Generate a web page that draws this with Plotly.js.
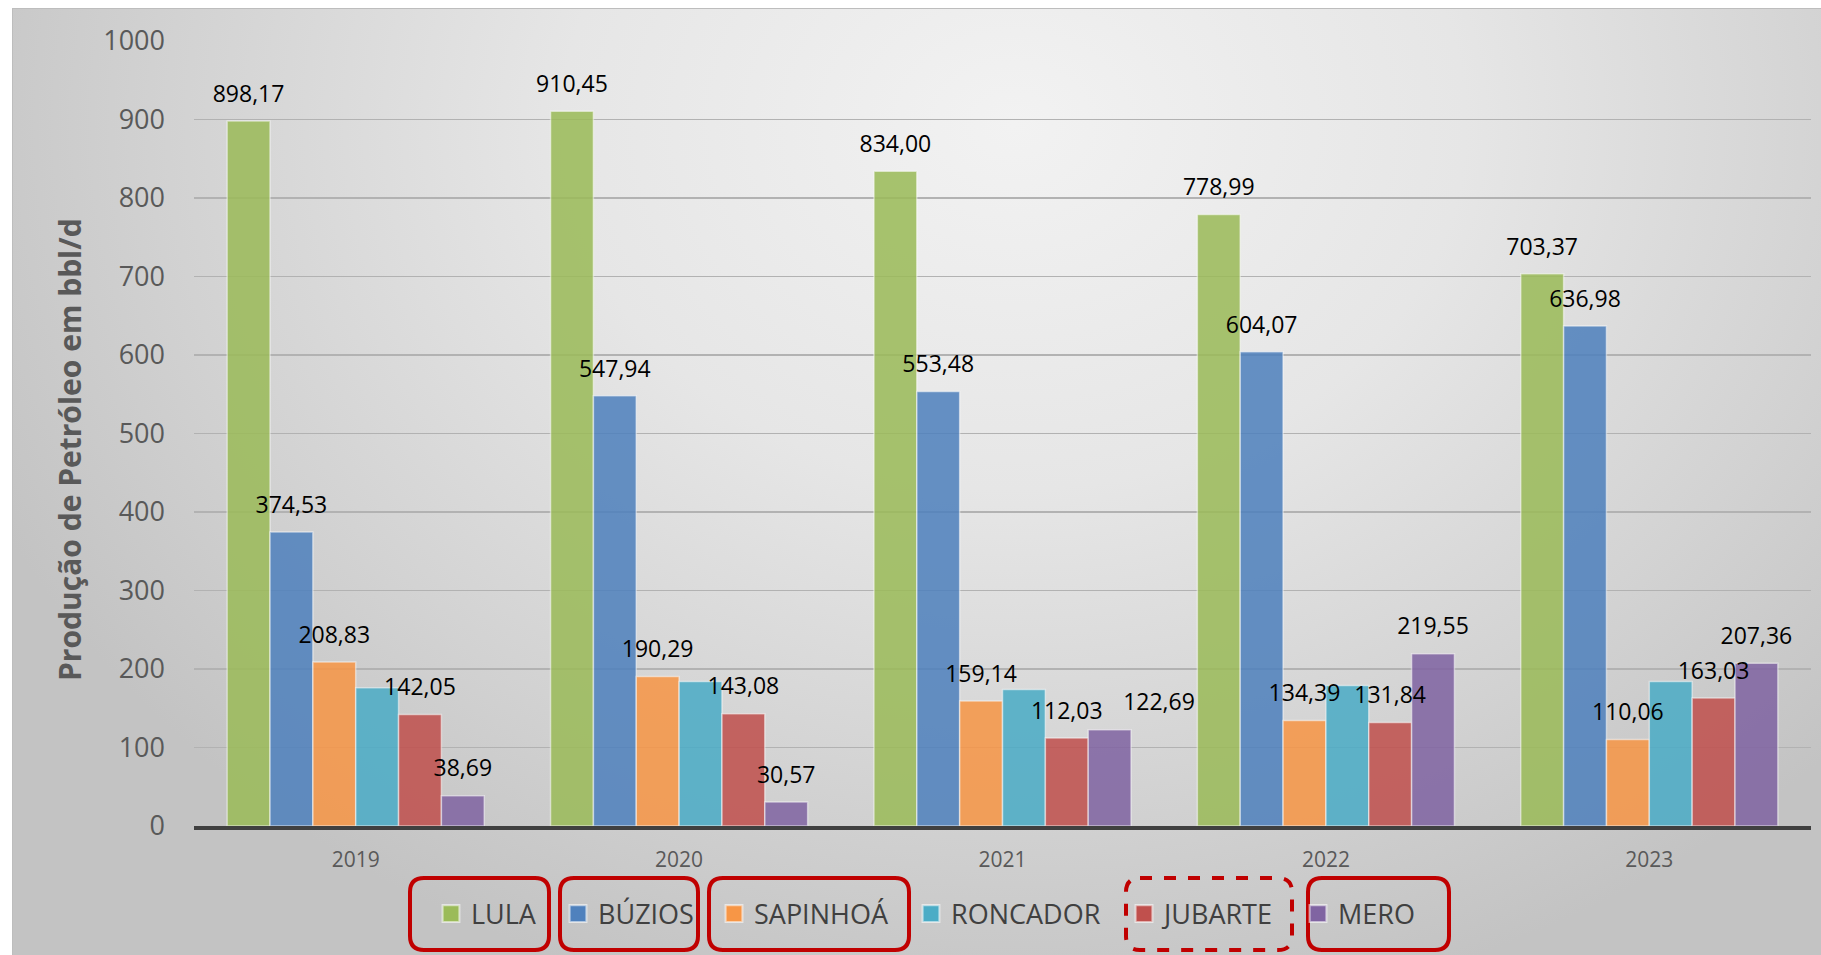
<!DOCTYPE html>
<html>
<head>
<meta charset="utf-8">
<script src="https://cdn.plot.ly/plotly-3.0.1.min.js"></script>
<style>
  html, body { margin: 0; padding: 0; background: #ffffff; width: 1821px; height: 955px; overflow: hidden; }
  #bg {
    position: absolute; left: 12px; top: 8px; width: 1820px; height: 960px;
    border: 1.5px solid #bdbdbd;
    background: radial-gradient(ellipse 62% 95% at 55% 12%, #f2f2f2 0%, #e6e6e6 40%, #d2d2d2 75%, #c3c3c3 100%);
  }
  #chart { position: absolute; left: 0; top: 0; width: 1821px; height: 955px; }
</style>
</head>
<body>
<div id="bg"></div>
<div id="chart"></div>
<script>
// ---- data ----
const years = ['2019', '2020', '2021', '2022', '2023'];
const seriesNames = ['LULA', 'BÚZIOS', 'SAPINHOÁ', 'RONCADOR', 'JUBARTE', 'MERO'];
const lula     = [898.17, 910.45, 834.00, 778.99, 703.37];
const buzios   = [374.53, 547.94, 553.48, 604.07, 636.98];
const sapinhoa = [208.83, 190.29, 159.14, 134.39, 110.06];
const roncador = [176, 184, 174, 179, 184];
const jubarte  = [142.05, 143.08, 112.03, 131.84, 163.03];
const mero     = [38.69, 30.57, 122.69, 219.55, 207.36];
const showLabel = [true, true, true, false, true, true];
const yTicks = [0, 100, 200, 300, 400, 500, 600, 700, 800, 900, 1000];
const yTitle = 'Produção de Petróleo em bbl/d';

// ---- styling ----
const seriesValues = [lula, buzios, sapinhoa, roncador, jubarte, mero];
const colors = ['#9bbb59', '#4f81bd', '#f79646', '#4bacc6', '#c0504d', '#8064a2'];
// label placement per series (the 2021 MERO label sits to the right in the reference)
const labelPos = seriesNames.map((n, i) => years.map((y, j) => (i === 5 && j === 2) ? 'top right' : 'top center'));
const FONT = '"Open Sans", "Noto Sans", sans-serif';

const W = 1821, H = 955;
const ML = 194, MR = 10, MT = 41, MB = 129;
const PW = W - ML - MR, PH = H - MT - MB;
const px2x = p => (p - ML) / PW;
const px2y = p => (H - MB - p) / PH;

const fmt = v => v.toFixed(2).replace('.', ',');

const traces = [];
seriesNames.forEach((name, i) => {
  traces.push({
    type: 'bar',
    name: name,
    x: years,
    y: seriesValues[i],
    offsetgroup: name,
    legend: i === 0 ? 'legend' : 'legend' + (i + 1),
    marker: { color: colors[i], opacity: 0.86, line: { color: 'rgba(255,255,255,0.55)', width: 1.5 } },
    hoverinfo: 'skip'
  });
});
seriesNames.forEach((name, i) => {
  traces.push({
    type: 'scatter',
    mode: 'markers+text',
    x: years,
    y: seriesValues[i],
    offsetgroup: name,
    text: seriesValues[i].map(v => showLabel[i] ? fmt(v) : ''),
    textposition: labelPos[i],
    textfont: { family: FONT, size: 23, color: '#000000' },
    marker: { size: 20, opacity: 0 },
    showlegend: false,
    hoverinfo: 'skip',
    cliponaxis: false
  });
});

// legend positions (left edge in px) and red highlight boxes
const legendLeft = [431, 558, 714, 911, 1124, 1298];
const boxes = [
  { x0: 410, x1: 549, dash: 'solid' },
  { x0: 560, x1: 698, dash: 'solid' },
  { x0: 709, x1: 909, dash: 'solid' },
  { x0: 1126, x1: 1292, dash: 'dash' },
  { x0: 1308, x1: 1449, dash: 'solid' }
];
const boxTop = 878, boxBottom = 950, R = 14;

function roundedPath(x0, x1, y0, y1, r) {
  const P = (x, y) => px2x(x) + ',' + px2y(y);
  return 'M' + P(x0 + r, y0) + ' L' + P(x1 - r, y0) + ' Q' + P(x1, y0) + ' ' + P(x1, y0 + r) +
    ' L' + P(x1, y1 - r) + ' Q' + P(x1, y1) + ' ' + P(x1 - r, y1) +
    ' L' + P(x0 + r, y1) + ' Q' + P(x0, y1) + ' ' + P(x0, y1 - r) +
    ' L' + P(x0, y0 + r) + ' Q' + P(x0, y0) + ' ' + P(x0 + r, y0) + ' Z';
}

const shapes = boxes.map(b => ({
  type: 'path', xref: 'paper', yref: 'paper', layer: 'above',
  path: roundedPath(b.x0, b.x1, boxTop, boxBottom, R),
  line: { color: '#c00000', width: 4, dash: b.dash }
}));

const layout = {
  width: W, height: H,
  margin: { l: ML, r: MR, t: MT, b: MB, pad: 0 },
  paper_bgcolor: 'rgba(0,0,0,0)',
  plot_bgcolor: 'rgba(0,0,0,0)',
  font: { family: FONT, color: '#595959' },
  barmode: 'group',
  bargap: 0.205,
  bargroupgap: 0,
  scattermode: 'group',
  scattergap: 0.205,
  xaxis: {
    type: 'category',
    showgrid: false,
    showline: true, linecolor: '#404040', linewidth: 4,
    ticks: '',
    tickfont: { family: FONT, size: 21, color: '#595959' },
    ticklabelstandoff: 12,
    fixedrange: true
  },
  yaxis: {
    range: [0, 1000],
    tickvals: yTicks,
    ticktext: yTicks.map(String),
    showgrid: true, gridcolor: '#b2b2b2', gridwidth: 1.5,
    zeroline: false,
    showline: false,
    ticks: '',
    ticklabelstandoff: 28,
    tickfont: { family: FONT, size: 27, color: '#595959' },
    fixedrange: true
  },
  annotations: [{
    text: yTitle, textangle: -90, showarrow: false,
    xref: 'paper', yref: 'paper',
    x: px2x(69), y: px2y(450), xanchor: 'center', yanchor: 'middle',
    font: { family: FONT, size: 30, color: '#595959', weight: 'bold' }
  }],
  shapes: shapes,
  showlegend: true
};
legendLeft.forEach((lx, i) => {
  const key = i === 0 ? 'legend' : 'legend' + (i + 1);
  layout[key] = {
    orientation: 'h',
    x: px2x(lx), xanchor: 'left',
    y: px2y(914), yanchor: 'middle',
    bgcolor: 'rgba(0,0,0,0)', borderwidth: 0,
    font: { family: FONT, size: 27, color: '#404040' }
  };
});

Plotly.newPlot('chart', traces, layout, { displayModeBar: false, staticPlot: true }).then(gd => {
  // enlarge the legend colour squares to the reference size
  gd.querySelectorAll('.legendpoints path').forEach(p => {
    const t = p.getAttribute('transform') || '';
    p.setAttribute('transform', t + ' scale(1.4)');
  });
});
</script>
</body>
</html>
